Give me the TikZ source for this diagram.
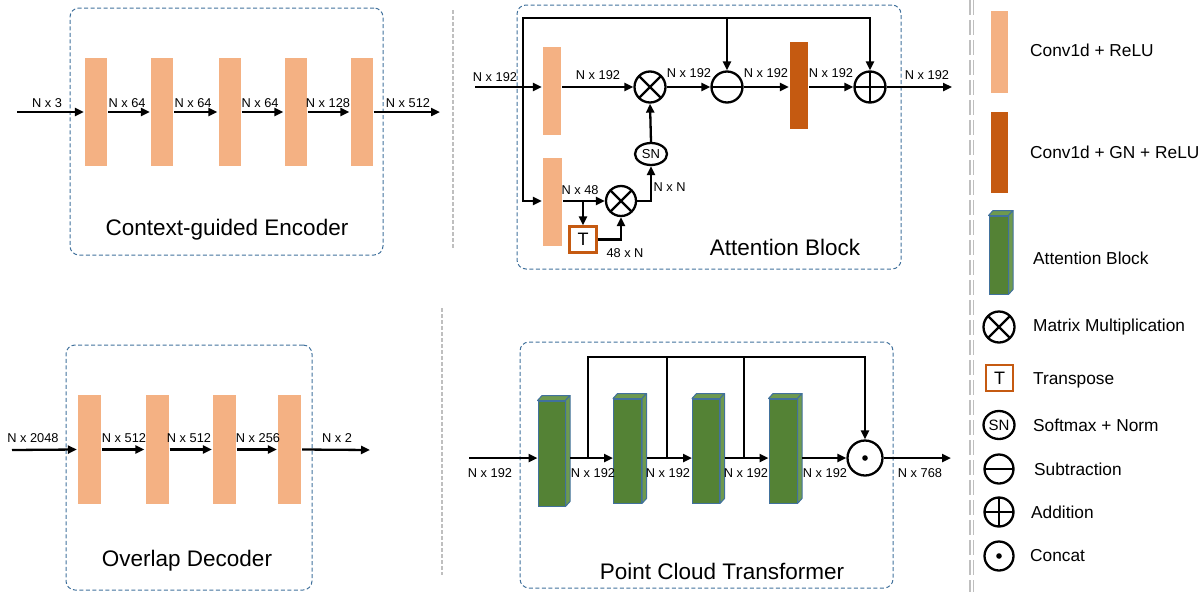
\documentclass[tikz,border=0pt]{standalone}
\usepackage{fontspec}
\setmainfont{Liberation Sans}
\usetikzlibrary{arrows.meta,calc,shapes.geometric}
\definecolor{convc}{HTML}{F4B183}
\definecolor{gnc}{HTML}{C55A11}
\definecolor{grn}{HTML}{548235}
\definecolor{grnl}{HTML}{6E9A4E}
\definecolor{bordc}{HTML}{41719C}
\definecolor{divc}{HTML}{BFBFBF}
\newcommand{\greenbar}[5]{%
  \node[gbar, minimum width=#4, minimum height=#5] (#1) at (#2,#3) {};
  \filldraw[fill=grnl, draw=bordc, line width=1pt, line join=round] (#1.north west) -- ++(4.5,-5) -- ([shift={(4.5,-5)}]#1.north east) -- (#1.north east) -- cycle;
  \filldraw[fill=grnl, draw=bordc, line width=1pt, line join=round] (#1.north east) -- ++(4.5,-5) -- ([shift={(4.5,-5)}]#1.south east) -- (#1.south east) -- cycle;
}
\begin{document}
\begin{tikzpicture}[x=1pt,y=-1pt,
  line width=2.3pt,
  arr/.style={-{Triangle[length=9pt,width=8pt]}},
  conv/.style={fill=convc, draw=none, inner sep=0, minimum width=22, minimum height=108},
  gnbar/.style={fill=gnc, draw=none, inner sep=0},
  gbar/.style={fill=grn, draw=bordc, line width=1pt, inner sep=0},
  dashbox/.style={draw=bordc, line width=1pt, dash pattern=on 4pt off 2.5pt, rounded corners=9pt, inner sep=0},
  divline/.style={draw=divc, line width=1.2pt, dash pattern=on 4pt off 2pt},
  legline/.style={draw=divc, line width=1.2pt, dash pattern=on 15pt off 5pt},
  lbl/.style={font=\fontsize{12.8}{15}\selectfont, inner sep=0},
  ttl/.style={font=\fontsize{22.5}{26}\selectfont, inner sep=0},
  leg/.style={font=\fontsize{17.3}{20}\selectfont, inner sep=0, anchor=west},
  opc/.style={circle, draw, line width=2.3pt, inner sep=0, minimum size=31},
  mulc/.style={opc, path picture={\draw[line width=2.3pt] (path picture bounding box.north west) -- (path picture bounding box.south east) (path picture bounding box.north east) -- (path picture bounding box.south west);}},
  subc/.style={opc, path picture={\draw[line width=2.3pt] (path picture bounding box.west) -- (path picture bounding box.east);}},
  addc/.style={opc, path picture={\draw[line width=2.3pt] (path picture bounding box.west) -- (path picture bounding box.east) (path picture bounding box.north) -- (path picture bounding box.south);}},
  catc/.style={opc, path picture={\fill (path picture bounding box.center) circle (2.8pt);}},
  snc/.style={ellipse, draw, line width=2.3pt, inner sep=0, minimum width=32, minimum height=22, font=\fontsize{13}{15}\selectfont},
  tbox/.style={draw=gnc, line width=2.3pt, fill=white, inner sep=0, minimum width=27, minimum height=26, font=\fontsize{18}{20}\selectfont}
]
\useasboundingbox (0,0) rectangle (1204,592);

% ---------------- dividers ----------------
\draw[divline] (453,10) -- (453,248);
\draw[divline] (442,308) -- (442,575);
\draw[legline] (970,0) -- (970,592);
\draw[legline] (973.5,0) -- (973.5,592);

% ---------------- Context-guided Encoder ----------------
\node[dashbox, minimum width=313, minimum height=247] (encbox) at (226.5,131.5) {};
\node[conv] (e1) at (96,112) {};
\node[conv] (e2) at (162,112) {};
\node[conv] (e3) at (229.5,112) {};
\node[conv] (e4) at (295.5,112) {};
\node[conv] (e5) at (361.5,112) {};
\coordinate (ein) at (17,112);
\coordinate (eout) at (440,112);
\draw[arr] (ein) -- (e1.west);
\draw[arr] (e1.east) -- (e2.west);
\draw[arr] (e2.east) -- (e3.west);
\draw[arr] (e3.east) -- (e4.west);
\draw[arr] (e4.east) -- (e5.west);
\draw[arr] (e5.east) -- (eout);
\node[lbl] (el0) at (47,103) {N x 3};
\node[lbl] (el1) at (127,103) {N x 64};
\node[lbl] (el2) at (193,103) {N x 64};
\node[lbl] (el3) at (260,103) {N x 64};
\node[lbl] (el4) at (328,103) {N x 128};
\node[lbl] (el5) at (408,103) {N x 512};
\node[ttl] (enct) at (227,230) {Context-guided Encoder};

% ---------------- Overlap Decoder ----------------
\node[dashbox, minimum width=246, minimum height=245] (decbox) at (189,467.5) {};
\node[conv, minimum width=23, minimum height=109] (d1) at (89.5,449.5) {};
\node[conv, minimum width=23, minimum height=109] (d2) at (157,449.5) {};
\node[conv, minimum width=23, minimum height=109] (d3) at (224.5,449.5) {};
\node[conv, minimum width=23, minimum height=109] (d4) at (289.5,449.5) {};
\coordinate (din) at (12,450);
\coordinate (dout) at (370,450);
\draw[arr] (din) -- (d1.west);
\draw[arr] (d1.east) -- (d2.west);
\draw[arr] (d2.east) -- (d3.west);
\draw[arr] (d3.east) -- (d4.west);
\draw[arr] (d4.east) -- (dout);
\node[lbl] (dl0) at (33,438) {N x 2048};
\node[lbl] (dl1) at (124,438) {N x 512};
\node[lbl] (dl2) at (189,438) {N x 512};
\node[lbl] (dl3) at (258,438) {N x 256};
\node[lbl] (dl4) at (337,438) {N x 2};
\node[ttl] (dect) at (187,561) {Overlap Decoder};

% ---------------- Attention Block ----------------
\node[dashbox, minimum width=384, minimum height=264] (attbox) at (709,137) {};
\node[conv, minimum width=18, minimum height=88] (a1) at (552,91) {};
\node[conv, minimum width=19, minimum height=88] (a2) at (552.5,202) {};
\node[gnbar, minimum width=18, minimum height=87] (g1) at (799,85.5) {};
\node[mulc] (m1) at (650,87) {};
\node[subc] (sb) at (727,87) {};
\node[addc] (ad) at (870,87) {};
\node[snc] (sn) at (651,154) {SN};
\node[mulc, minimum size=30] (m2) at (621,201) {};
\node[tbox] (tt) at (583,239.5) {T};
\coordinate (ain) at (475,87);
\coordinate (ajn) at (523,87);
\coordinate (atop) at (870,18);
\coordinate (abr) at (583,201);
\coordinate (aout) at (952,87);
\draw[arr] (ain) -- (a1.west |- ain);
\draw[arr] (ajn) |- (a2.west |- m2);
\draw[arr] (ajn) |- (atop) -- (ad.north);
\draw[arr] (sb.north |- atop) -- (sb.north);
\draw[arr] (a1.east |- ain) -- (m1.west);
\draw[arr] (m1.east) -- (sb.west);
\draw[arr] (sb.east) -- (g1.west |- ain);
\draw[arr] (g1.east |- ain) -- (ad.west);
\draw[arr] (ad.east) -- (aout);
\draw[arr] (a2.east |- m2) -- (m2.west);
\draw[arr] (abr) -- (tt.north);
\draw[arr] (tt.east) -| (m2.south);
\draw[arr] (m2.east) -| (sn.south);
\draw[arr] (sn.north) -- (m1.south);
\node[lbl] (al0) at (495,77) {N x 192};
\node[lbl] (al1) at (598,75) {N x 192};
\node[lbl] (al2) at (689,73) {N x 192};
\node[lbl] (al3) at (766,73) {N x 192};
\node[lbl] (al4) at (831,73) {N x 192};
\node[lbl] (al5) at (927,75) {N x 192};
\node[lbl] (al6) at (580,190) {N x 48};
\node[lbl] (al7) at (669.5,187) {N x N};
\node[lbl] (al8) at (625,253) {48 x N};
\node[ttl] (attt) at (785,247) {Attention Block};

% ---------------- Point Cloud Transformer ----------------
\node[dashbox, minimum width=373, minimum height=246] (pctbox) at (706.5,465) {};
\greenbar{p1}{551.5}{453.5}{27}{105}
\greenbar{p2}{627.5}{451}{28}{104}
\greenbar{p3}{706}{451}{27}{104}
\greenbar{p4}{783}{451}{28}{104}
\node[catc, minimum size=35] (cc) at (865,458) {};
\coordinate (pin) at (469,458);
\coordinate (pout) at (951,458);
\coordinate (pb1) at (588,458);
\coordinate (pb2) at (667,458);
\coordinate (pb3) at (744,458);
\coordinate (ptop) at (865,357);
\draw[arr] (pin) -- (p1.west |- pin);
\draw[arr] ([xshift=4.5]p1.east |- pin) -- (p2.west |- pin);
\draw[arr] ([xshift=4.5]p2.east |- pin) -- (p3.west |- pin);
\draw[arr] ([xshift=4.5]p3.east |- pin) -- (p4.west |- pin);
\draw[arr] ([xshift=4.5]p4.east |- pin) -- (cc.west);
\draw[arr] (cc.east) -- (pout);
\draw[arr] (pb1) |- (ptop) -- (cc.north);
\draw (pb2) -- (pb2 |- ptop);
\draw (pb3) -- (pb3 |- ptop);
\node[lbl] (pl0) at (490,473) {N x 192};
\node[lbl] (pl1) at (593,473) {N x 192};
\node[lbl] (pl2) at (668,473) {N x 192};
\node[lbl] (pl3) at (746,473) {N x 192};
\node[lbl] (pl4) at (825,473) {N x 192};
\node[lbl] (pl5) at (920,473) {N x 768};
\node[ttl] (pctt) at (722,571) {Point Cloud Transformer};

% ---------------- Legend ----------------
\node[conv, minimum width=17, minimum height=82] (lg1) at (999.5,52) {};
\node[leg] (lt1) at (1029,50) {Conv1d + ReLU};
\node[gnbar, minimum width=17, minimum height=81] (lg2) at (999.5,152.5) {};
\node[leg] (lt2) at (1029,152) {Conv1d + GN + ReLU};
\greenbar{lg3}{998.5}{255}{19}{78}
\node[leg] (lt3) at (1032,258) {Attention Block};
\node[mulc] (lg4) at (999,327) {};
\node[leg] (lt4) at (1032,327) {Matrix Multiplication};
\node[tbox] (lg5) at (999.5,378) {T};
\node[leg] (lt5) at (1032,380) {Transpose};
\node[snc, minimum width=31, minimum height=28, font=\fontsize{15}{17}\selectfont] (lg6) at (999,425) {SN};
\node[leg] (lt6) at (1032,425) {Softmax + Norm};
\node[subc, minimum size=29] (lg7) at (999,469) {};
\node[leg] (lt7) at (1033,469) {Subtraction};
\node[addc, minimum size=29] (lg8) at (999,512) {};
\node[leg] (lt8) at (1030,512) {Addition};
\node[catc, minimum size=29] (lg9) at (999,556) {};
\node[leg] (lt9) at (1029,556) {Concat};
\end{tikzpicture}
\end{document}
